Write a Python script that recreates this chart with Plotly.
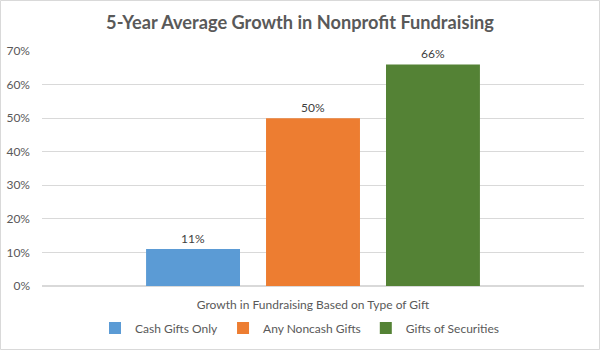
import plotly.graph_objects as go

category = ["Growth in Fundraising Based on Type of Gift"]
series_names = ["Cash Gifts Only", "Any Noncash Gifts", "Gifts of Securities"]
series_values = [0.11, 0.50, 0.66]
series_colors = ["#5b9bd5", "#ed7d31", "#548235"]
y_ticks = [0, 0.1, 0.2, 0.3, 0.4, 0.5, 0.6, 0.7]

FONT = "Lato"
fig = go.Figure()
for name, val, col in zip(series_names, series_values, series_colors):
    fig.add_trace(go.Bar(
        x=category, y=[val], name=name,
        marker=dict(color=col, line=dict(width=0)),
        text=[f"{val:.0%}"], textposition="outside",
        textfont=dict(family=FONT, size=12, color="#404040"),
        cliponaxis=False,
    ))

W, H = 600, 350
L, R, T, B = 42, 16, 51, 64
pw, ph = W - L - R, H - T - B

fig.update_layout(
    width=W, height=H,
    margin=dict(l=L, r=R, t=T, b=B, autoexpand=False),
    paper_bgcolor="white", plot_bgcolor="white",
    barmode="group", bargap=0.336, bargroupgap=0.217,
    font=dict(family=FONT, size=12, color="#595959"),
    title=dict(text="<b>5-Year Average Growth in Nonprofit Fundraising</b>",
               x=0.5, xref="container", xanchor="center", y=1 - 23 / H, yanchor="middle",
               font=dict(family=FONT, size=18.2, color="#595959")),
    legend=dict(orientation="h", xref="container", x=0.5, xanchor="center",
                yref="container", y=1 - 328 / H, yanchor="middle",
                font=dict(family=FONT, size=12, color="#595959"),
                itemwidth=30, traceorder="normal"),
    yaxis=dict(range=[0, 0.7], tickvals=y_ticks, tickformat=".0%", automargin=False,
               gridcolor="#d9d9d9", gridwidth=1, zeroline=True, zerolinecolor="#d9d9d9",
               showline=False, ticks="", ticklabelstandoff=11,
               tickfont=dict(family=FONT, size=12, color="#595959")),
    xaxis=dict(showline=True, linecolor="#d9d9d9", ticks="", ticklabelstandoff=8,
               automargin=False,
               tickfont=dict(family=FONT, size=12, color="#595959")),
    shapes=[dict(type="rect", xref="paper", yref="paper",
                 x0=(0.5 - L) / pw, x1=(W - 0.5 - L) / pw,
                 y0=-(B - 0.5) / ph, y1=1 + (T - 0.5) / ph,
                 line=dict(color="#d9d9d9", width=1), layer="below")],
)

fig.write_html("out.html")
